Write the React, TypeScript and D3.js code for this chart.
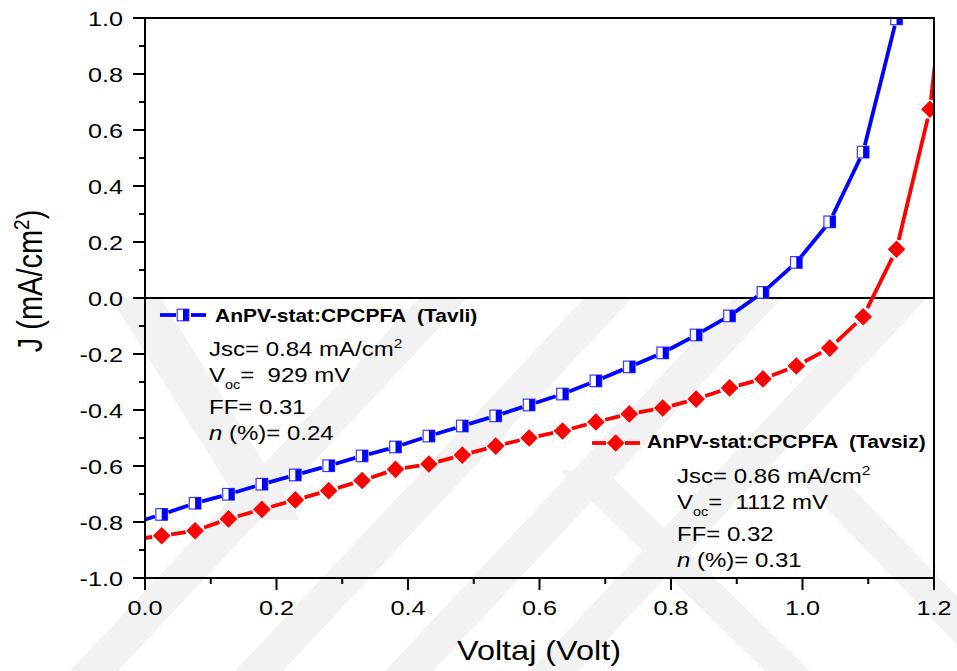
import React from 'react';
import * as d3 from 'd3';

// ---- data ----
const voltage = [
  -0.0254, 0.0254, 0.0762, 0.127, 0.1778, 0.2286, 0.2794, 0.3302, 0.381, 0.4318,
  0.4826, 0.5334, 0.5842, 0.635, 0.6858, 0.7366, 0.7874, 0.8382, 0.889, 0.9398,
  0.9906, 1.0414, 1.0922, 1.143, 1.1938, 1.2446,
];
const jTavli = [
  -0.81, -0.773, -0.733, -0.701, -0.665, -0.632, -0.599, -0.564, -0.532, -0.493,
  -0.457, -0.421, -0.382, -0.343, -0.296, -0.246, -0.196, -0.132, -0.064, 0.02,
  0.127, 0.272, 0.521, 0.997,
];
const jTavsiz = [
  -0.865, -0.849, -0.831, -0.789, -0.755, -0.721, -0.688, -0.652, -0.612, -0.593,
  -0.561, -0.529, -0.5, -0.475, -0.443, -0.414, -0.393, -0.361, -0.321, -0.289,
  -0.243, -0.179, -0.067, 0.174, 0.674, 1.75,
];
const xMajorTicks = [0, 0.2, 0.4, 0.6, 0.8, 1.0, 1.2];
const yMajorTicks = [-1.0, -0.8, -0.6, -0.4, -0.2, 0.0, 0.2, 0.4, 0.6, 0.8, 1.0];
const seriesNames = ['AnPV-stat:CPCPFA  (Tavli)', 'AnPV-stat:CPCPFA  (Tavsiz)'];
const statsTavli = { jsc: '0.84', voc: '929', ff: '0.31', n: '0.24' };
const statsTavsiz = { jsc: '0.86', voc: '1112', ff: '0.32', n: '0.31' };

const W = 957;
const H = 671;
const L = 145, R = 934, T = 18, B = 578;
const FONT = "'Liberation Sans', Arial, Helvetica, sans-serif";
const SX = 1.2;

const x = d3.scaleLinear().domain([0, 1.2]).range([L, R]);
const y = d3.scaleLinear().domain([-1, 1]).range([B, T]);

const fmt = (v: number) => {
  const s = Math.abs(v) < 1e-9 ? 0 : v;
  return s.toFixed(1);
};

function shortSegs(pts: [number, number][], g: number) {
  const out: [number, number, number, number][] = [];
  for (let i = 0; i < pts.length - 1; i++) {
    const [x1, y1] = pts[i];
    const [x2, y2] = pts[i + 1];
    const dx = x2 - x1, dy = y2 - y1;
    const len = Math.hypot(dx, dy);
    if (len <= 2 * g) continue;
    const ux = dx / len, uy = dy / len;
    out.push([x1 + ux * g, y1 + uy * g, x2 - ux * g, y2 - uy * g]);
  }
  return out;
}

const SQ = 5.8;
const DM = 8.8;

function Square({ cx, cy }: { cx: number; cy: number }) {
  return (
    <g>
      <rect x={cx - SQ} y={cy - SQ} width={2 * SQ} height={2 * SQ} fill="#ffffff" stroke="#3a3aff" strokeWidth={1.2} />
      <rect x={cx} y={cy - SQ} width={SQ} height={2 * SQ} fill="#0000ff" />
    </g>
  );
}
function Diamond({ cx, cy }: { cx: number; cy: number }) {
  return (
    <path d={`M${cx},${cy - DM}L${cx + DM},${cy}L${cx},${cy + DM}L${cx - DM},${cy}Z`} fill="#ff0000" />
  );
}

function Txt({ x: tx, y: ty, size, weight, anchor, children }: any) {
  return (
    <text
      transform={`translate(${tx},${ty}) scale(${SX},1)`}
      fontFamily={FONT}
      fontSize={size}
      fontWeight={weight || 'normal'}
      textAnchor={anchor || 'start'}
      fill="#000"
      style={{ whiteSpace: 'pre' }}
    >
      {children}
    </text>
  );
}

function Stats({ x0, y0, s }: { x0: number; y0: number; s: any }) {
  return (
    <g>
      <Txt x={x0} y={y0} size={20}>
        {`Jsc= ${s.jsc} mA/cm`}
        <tspan fontSize={13} dy={-8}>2</tspan>
      </Txt>
      <Txt x={x0} y={y0 + 25.5} size={20}>
        V<tspan fontSize={12} dy={7}>oc</tspan>
        <tspan dy={-7}>{`=  ${s.voc} mV`}</tspan>
      </Txt>
      <Txt x={x0} y={y0 + 57.5} size={20}>{`FF= ${s.ff}`}</Txt>
      <Txt x={x0} y={y0 + 84} size={20}>
        <tspan fontStyle="italic">n</tspan>
        {` (%)= ${s.n}`}
      </Txt>
    </g>
  );
}

// watermark bands (light gray, lower half of page)
const wmBands: [number, number][][] = [
  [[110, 297], [160, 297], [300, 520], [250, 520]],
  [[420, 297], [468, 297], [118, 671], [70, 671]],
  [[585, 297], [633, 297], [283, 671], [235, 671]],
  [[735, 297], [783, 297], [433, 671], [385, 671]],
  [[880, 297], [928, 297], [578, 671], [530, 671]],
  [[560, 470], [605, 470], [810, 671], [765, 671]],
  [[790, 470], [835, 470], [1000, 640], [1000, 690]],
];

export default function App() {
  const ptsA: [number, number][] = jTavli.map((j, i) => [x(voltage[i]), y(j)]);
  const ptsB: [number, number][] = jTavsiz.map((j, i) => [x(voltage[i]), y(j)]);
  const segA = shortSegs(ptsA, SQ + 1.3);
  const segB = shortSegs(ptsB, DM + 0.8);

  const xMinor = d3.range(0.1, 1.2, 0.2);
  const yMinor = d3.range(-0.9, 1.0, 0.2);

  return (
    <svg width={W} height={H} style={{ position: 'absolute', left: 0, top: 0, background: '#fff' }}>
      <defs>
        <clipPath id="plotclip">
          <rect x={L} y={T} width={R - L} height={B - T} />
        </clipPath>
        <clipPath id="wmclip">
          <rect x={0} y={297} width={W} height={H - 297} />
        </clipPath>
      </defs>

      <g clipPath="url(#wmclip)" fill="#f2f2f2">
        {wmBands.map((b, i) => (
          <polygon key={i} points={b.map((p) => p.join(',')).join(' ')} />
        ))}
      </g>

      {/* zero line */}
      <line x1={L} x2={R} y1={y(0)} y2={y(0)} stroke="#000" strokeWidth={2} />

      {/* series */}
      <g clipPath="url(#plotclip)">
        {segA.map((s, i) => (
          <line key={'a' + i} x1={s[0]} y1={s[1]} x2={s[2]} y2={s[3]} stroke="#0000ff" strokeWidth={3.8} />
        ))}
        {segB.map((s, i) => (
          <line key={'b' + i} x1={s[0]} y1={s[1]} x2={s[2]} y2={s[3]} stroke="#ff0000" strokeWidth={3.8} />
        ))}
        {ptsB.map((p, i) => (
          <Diamond key={'d' + i} cx={p[0]} cy={p[1]} />
        ))}
        {ptsA.map((p, i) => (
          <Square key={'s' + i} cx={p[0]} cy={p[1]} />
        ))}
      </g>

      {/* frame */}
      <rect x={L} y={T} width={R - L} height={B - T} fill="none" stroke="#000" strokeWidth={2} />

      {/* x ticks */}
      {xMajorTicks.map((v) => (
        <g key={'xt' + v}>
          <line x1={x(v)} x2={x(v)} y1={B} y2={B + 12} stroke="#000" strokeWidth={2} />
          <Txt x={x(v)} y={615} size={21} anchor="middle">{fmt(v)}</Txt>
        </g>
      ))}
      {xMinor.map((v) => (
        <line key={'xm' + v} x1={x(v)} x2={x(v)} y1={B} y2={B + 6} stroke="#000" strokeWidth={2} />
      ))}

      {/* y ticks */}
      {yMajorTicks.map((v) => (
        <g key={'yt' + v}>
          <line x1={L - 12} x2={L} y1={y(v)} y2={y(v)} stroke="#000" strokeWidth={2} />
          <Txt x={123} y={y(v) + 7.5} size={21} anchor="end">{fmt(v)}</Txt>
        </g>
      ))}
      {yMinor.map((v) => (
        <line key={'ym' + v} x1={L - 6} x2={L} y1={y(v)} y2={y(v)} stroke="#000" strokeWidth={2} />
      ))}

      {/* axis titles */}
      <Txt x={539} y={660} size={27} anchor="middle">Voltaj (Volt)</Txt>
      <text
        transform={`translate(42,281) scale(1.2,1) rotate(-90)`}
        fontFamily={FONT}
        fontSize={29}
        textAnchor="middle"
        fill="#000"
      >
        J (mA/cm<tspan fontSize={19} dy={-11}>2</tspan><tspan dy={11}>)</tspan>
      </text>

      {/* legend 1 */}
      <line x1={160} x2={176} y1={315} y2={315} stroke="#0000ff" strokeWidth={3.8} />
      <line x1={191} x2={206} y1={315} y2={315} stroke="#0000ff" strokeWidth={3.8} />
      <Square cx={183} cy={315} />
      <Txt x={215} y={321.5} size={17.5} weight="bold">{seriesNames[0]}</Txt>
      <Stats x0={209} y0={356} s={statsTavli} />

      {/* legend 2 */}
      <line x1={592} x2={606} y1={443} y2={443} stroke="#ff0000" strokeWidth={3.8} />
      <line x1={625} x2={640} y1={443} y2={443} stroke="#ff0000" strokeWidth={3.8} />
      <Diamond cx={615.7} cy={443} />
      <Txt x={647} y={448} size={17.5} weight="bold">{seriesNames[1]}</Txt>
      <Stats x0={677} y0={483} s={statsTavsiz} />
    </svg>
  );
}
